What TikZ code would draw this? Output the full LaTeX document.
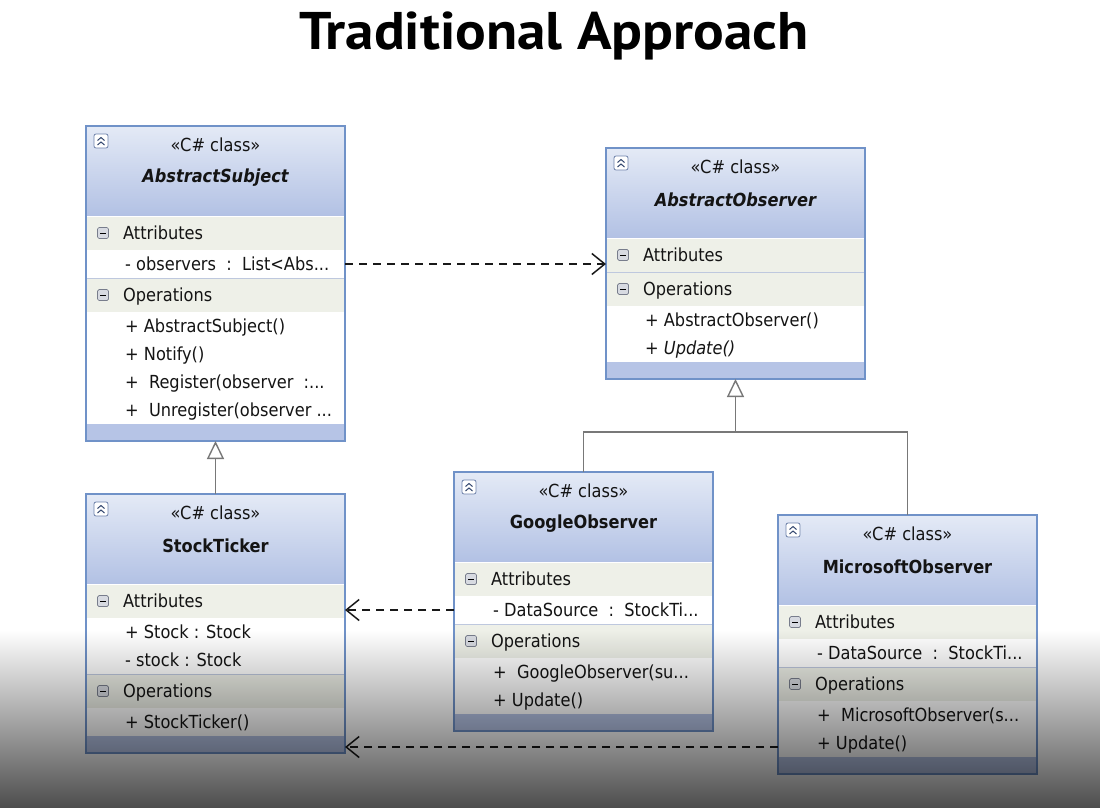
\documentclass[tikz,border=0pt]{standalone}
\usepackage{fontspec}
\setmainfont{DejaVu Sans Condensed}
\newfontfamily\titlefont{PT Sans}[FakeStretch=1.08]
\usetikzlibrary{arrows.meta,calc,fadings}
\definecolor{bordercol}{RGB}{112,146,200}
\definecolor{hdtop}{RGB}{228,234,246}
\definecolor{hdbot}{RGB}{178,193,228}
\definecolor{bandcol}{RGB}{238,240,232}
\definecolor{botcol}{RGB}{182,196,230}
\definecolor{divcol}{RGB}{190,200,222}
\definecolor{txt}{RGB}{20,20,20}
\definecolor{depcol}{RGB}{25,25,25}
\definecolor{gencol}{RGB}{120,120,120}
\definecolor{iconborder}{RGB}{110,130,170}
\definecolor{chevcol}{RGB}{50,70,110}
\definecolor{minusfill}{RGB}{215,218,225}
\definecolor{minusborder}{RGB}{120,125,140}
\tikzfading[name=bottomfade, top color=transparent!100, bottom color=transparent!30]
\tikzset{
  classnode/.style={rectangle, inner sep=0pt, outer sep=0pt, minimum width=259pt},
  rowtext/.style={anchor=base west, inner sep=0pt, font=\fontsize{18}{20}\selectfont, text=txt},
  stereo/.style={inner sep=0pt, font=\fontsize{18}{20}\selectfont, text=txt},
  cname/.style={inner sep=0pt, font=\fontsize{18}{21}\selectfont\bfseries, text=txt},
  deparrow/.style={draw=depcol, line width=1.5pt, dash pattern=on 8pt off 6pt,
    -{Straight Barb[length=13pt,width=21pt]}},
  genline/.style={draw=gencol, line width=1.4pt},
  genarrow/.style={genline, -{Triangle[open, length=18pt, width=17pt, fill=white]}},
}
\newcommand\umlclass[6]{%
  \pgfmathsetmacro\cX{#2}%
  \pgfmathsetmacro\cY{#3}%
  \pgfmathsetmacro\cXe{#2+259}%
  \pgfmathsetmacro\ya{#3+90}%
  \pgfmathsetmacro\yar{\ya+34}%
  \pgfmathsetmacro\yo{\yar+28*#4}%
  \pgfmathsetmacro\yor{\yo+34}%
  \pgfmathsetmacro\yb{\yor+28*#5}%
  \pgfmathsetmacro\ye{\yb+17}%
  \pgfmathsetmacro\hh{\ye-#3}%
  \expandafter\xdef\csname yar@#1\endcsname{\yar}%
  \expandafter\xdef\csname yor@#1\endcsname{\yor}%
  \expandafter\xdef\csname x@#1\endcsname{\cX}%
  \shade[top color=hdtop, bottom color=hdbot] (\cX,\cY) rectangle (\cXe,\ya);
  \fill[bandcol] (\cX,\ya) rectangle (\cXe,\yar);
  \fill[white] (\cX,\yar) rectangle (\cXe,\yo);
  \fill[bandcol] (\cX,\yo) rectangle (\cXe,\yor);
  \fill[white] (\cX,\yor) rectangle (\cXe,\yb);
  \fill[botcol] (\cX,\yb) rectangle (\cXe,\ye);
  \draw[white, line width=1pt] (\cX,\ya+0.5) -- (\cXe,\ya+0.5);
  \draw[divcol, line width=1pt] (\cX,\yo) -- (\cXe,\yo);
  \node[classnode, draw=bordercol, line width=1.3pt, minimum height=\hh pt, anchor=north west] (#1) at (\cX,\cY) {};
  % collapse icon
  \draw[iconborder, fill=white, rounded corners=2pt, line width=0.8pt] (\cX+8,\cY+8) rectangle (\cX+22,\cY+22);
  \draw[chevcol, line width=1pt] (\cX+11.5,\cY+14.5) -- (\cX+15,\cY+11.5) -- (\cX+18.5,\cY+14.5)
     (\cX+11.5,\cY+19) -- (\cX+15,\cY+16) -- (\cX+18.5,\cY+19);
  % section icons
  \foreach \yy in {\ya,\yo} {
    \draw[minusborder, fill=minusfill, rounded corners=1.5pt, line width=0.7pt] (\cX+11.5,\yy+11.5) rectangle (\cX+22.5,\yy+22.5);
    \draw[black, line width=1pt] (\cX+14,\yy+17) -- (\cX+20,\yy+17);
  }
  \node[rowtext] (#1-attr) at (\cX+37,\ya+23.5) {Attributes};
  \node[rowtext] (#1-ops) at (\cX+37,\yo+23.5) {Operations};
  \node[stereo] (#1-st) at (\cX+129.5,\cY+19) {«C\# class»};
  \node[cname] (#1-nm) at (\cX+129.5,\cY+52) {#6};
}
\newcommand\arow[3]{%
  \pgfmathsetmacro\ry{\csname yar@#1\endcsname+28*#2-14}%
  \pgfmathsetmacro\rx{\csname x@#1\endcsname}%
  \coordinate (#1-a#2c) at (\rx,\ry);
  \node[rowtext] (#1-a#2) at (\rx+39,\ry+6.5) {#3};
}
\newcommand\orow[3]{%
  \pgfmathsetmacro\ry{\csname yor@#1\endcsname+28*#2-14}%
  \pgfmathsetmacro\rx{\csname x@#1\endcsname}%
  \coordinate (#1-o#2c) at (\rx,\ry);
  \node[rowtext] (#1-o#2) at (\rx+39,\ry+6.5) {#3};
}
\begin{document}
\begin{tikzpicture}[x=1pt,y=-1pt]
\useasboundingbox (0,0) rectangle (1102,808);
\fill[white] (0,0) rectangle (1102,808);
\node[anchor=base, inner sep=0pt, font=\titlefont\bfseries\fontsize{53}{60}\selectfont] (title) at (554,50) {Traditional Approach};

\umlclass{as}{86}{126}{1}{4}{\itshape AbstractSubject}
\arow{as}{1}{- observers\ \ :\ \ List<Abs...}
\orow{as}{1}{+ AbstractSubject()}
\orow{as}{2}{+ Notify()}
\orow{as}{3}{+\ \ Register(observer\ \ :...}
\orow{as}{4}{+\ \ Unregister(observer ...}

\umlclass{ao}{606}{148}{0}{2}{\itshape AbstractObserver}
\orow{ao}{1}{+ AbstractObserver()}
\orow{ao}{2}{\itshape + Update()}

\umlclass{st}{86}{494}{2}{1}{StockTicker}
\arow{st}{1}{+ Stock : Stock}
\arow{st}{2}{- stock : Stock}
\orow{st}{1}{+ StockTicker()}

\umlclass{go}{454}{472}{1}{2}{GoogleObserver}
\arow{go}{1}{- DataSource\ \ :\ \ StockTi...}
\orow{go}{1}{+\ \ GoogleObserver(su...}
\orow{go}{2}{+ Update()}

\umlclass{mo}{778}{515}{1}{2}{MicrosoftObserver}
\arow{mo}{1}{- DataSource\ \ :\ \ StockTi...}
\orow{mo}{1}{+\ \ MicrosoftObserver(s...}
\orow{mo}{2}{+ Update()}

% dependencies
\draw[deparrow] (as-a1c -| as.east) -- (as-a1c -| ao.west);
\draw[deparrow] (go-a1c -| go.west) -- (go-a1c -| st.east);
\coordinate (msdep) at ($(mo.south west)+(0,-27)$);
\draw[deparrow] (msdep) -- (msdep -| st.east);

% generalizations
\draw[genarrow] (st.north) -- (as.south);
\coordinate (join) at ($(ao.south)+(0,53)$);
\draw[genline] (go.north) |- (join) -| (mo.north);
\draw[genarrow] (join) -- (ao.south);

% bottom shading overlay
\fill[black, path fading=bottomfade] (0,630) rectangle (1102,808);
\end{tikzpicture}
\end{document}
